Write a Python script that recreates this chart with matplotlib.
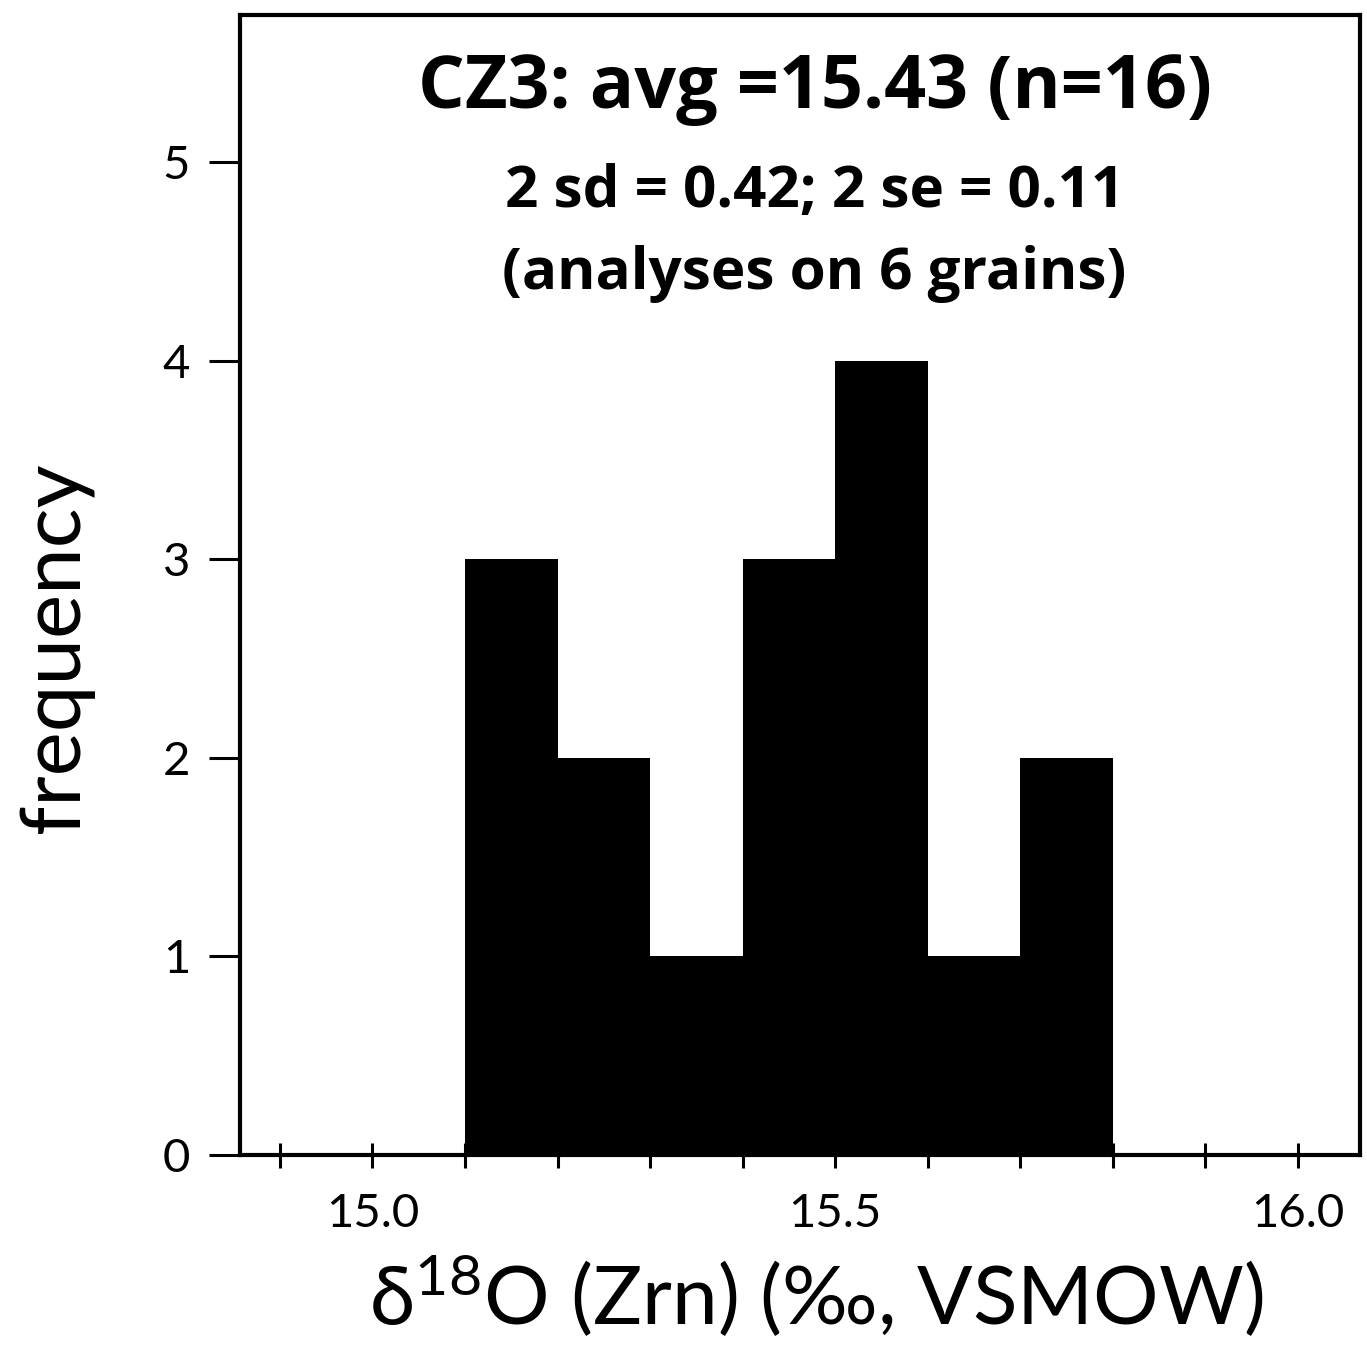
import numpy as np
import matplotlib.pyplot as plt
from matplotlib.ticker import MultipleLocator

# histogram bins (delta18O, permil) and counts
bin_edges = [15.1, 15.2, 15.3, 15.4, 15.5, 15.6, 15.7, 15.8]
counts = [3, 2, 1, 3, 4, 1, 2]

title1 = 'CZ3: avg =15.43 (n=16)'
title2 = '2 sd = 0.42; 2 se = 0.11'
title3 = '(analyses on 6 grains)'

plt.rcParams['font.family'] = ['Lato', 'DejaVu Sans']

fig = plt.figure(figsize=(13.67, 13.68), dpi=100)
ax = fig.add_axes([0.1756, 0.1557, 0.8193, 0.8333])

left = np.array(bin_edges[:-1])
width = np.diff(bin_edges)
ax.bar(left, counts, width=width, align='edge', color='black', edgecolor='black', linewidth=0)

ax.set_xlim(14.857, 16.067)
ax.set_ylim(0, 5.74)

for s in ax.spines.values():
    s.set_linewidth(3)

ax.xaxis.set_minor_locator(MultipleLocator(0.1))
ax.set_xticks([15.0, 15.5, 16.0])
ax.set_xticklabels(['15.0', '15.5', '16.0'])
ax.tick_params(axis='x', which='both', direction='inout', length=18, width=2.2, labelsize=34, pad=18)
ax.set_yticks([0, 1, 2, 3, 4, 5])
ax.tick_params(axis='y', direction='out', length=22, width=2.2, labelsize=34, pad=14)

ax.set_xlabel(r'$\mathregular{\delta^{18}}$O (Zrn) (‰, VSMOW)', fontsize=59)
ax.xaxis.set_label_coords(0.515, -0.085)
ax.set_ylabel('frequency', fontsize=60)
ax.yaxis.set_label_coords(-0.13, 0.445)

fam = ['Open Sans', 'DejaVu Sans']
ax.text(0.513, 0.935, title1, transform=ax.transAxes, ha='center', va='center', fontsize=53, fontweight='bold', family=fam)
ax.text(0.513, 0.845, title2, transform=ax.transAxes, ha='center', va='center', fontsize=42, fontweight='bold', family=fam)
ax.text(0.513, 0.773, title3, transform=ax.transAxes, ha='center', va='center', fontsize=42, fontweight='bold', family=fam)

fig.savefig('out.png', dpi=100)
